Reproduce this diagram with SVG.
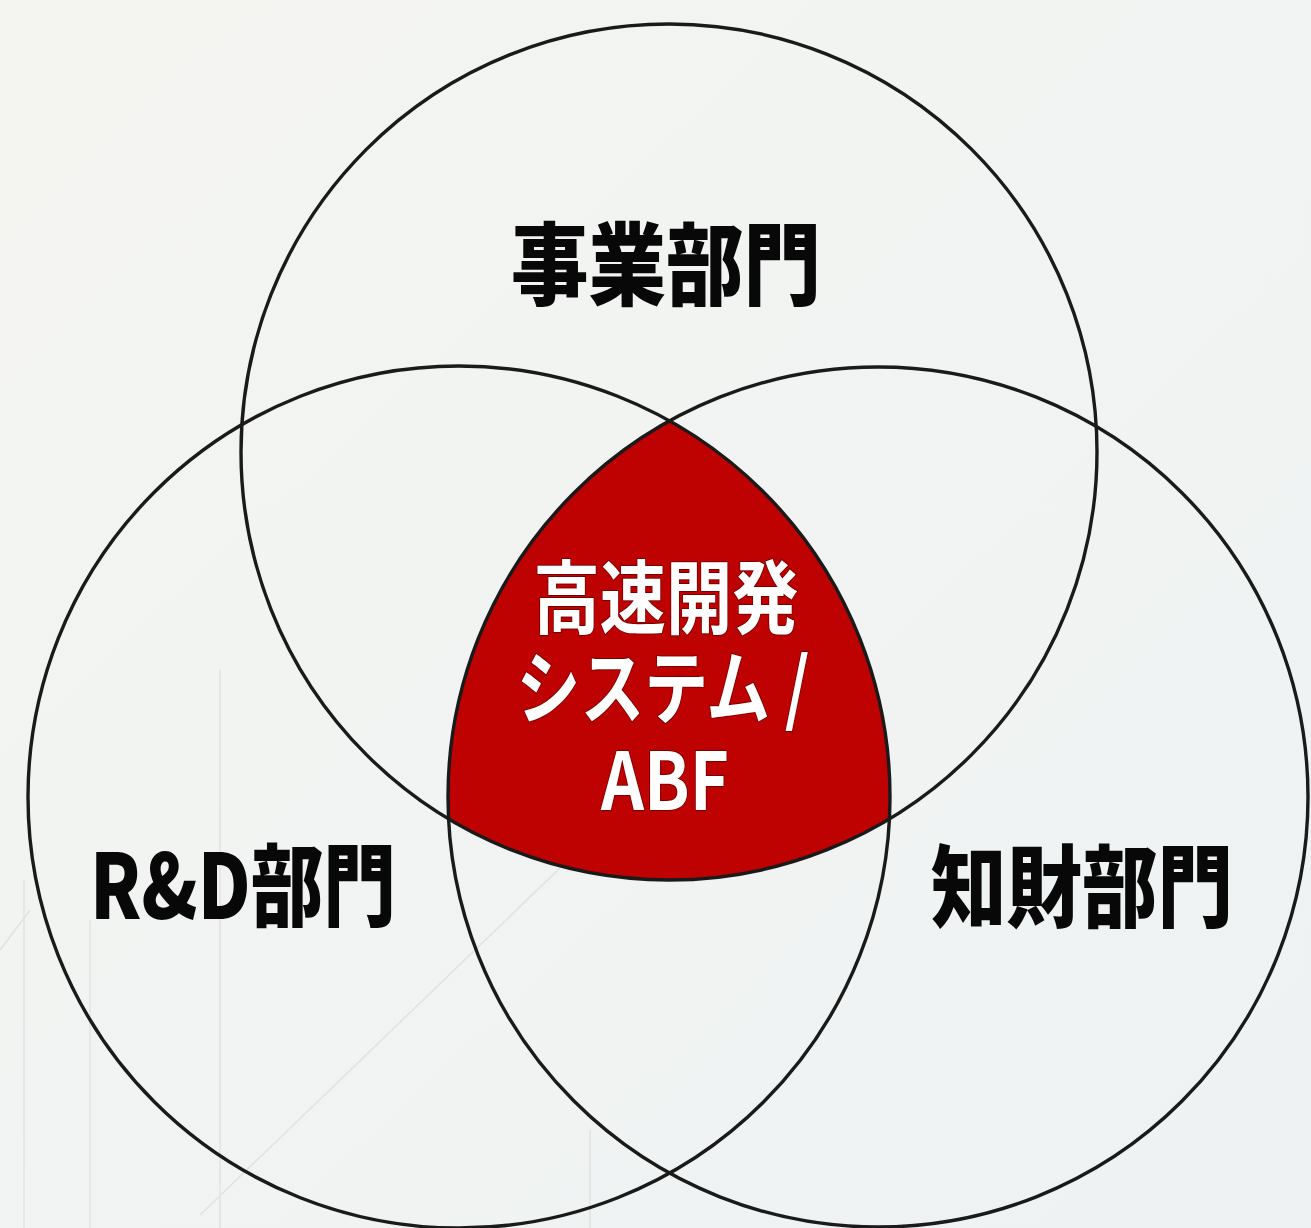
<svg xmlns="http://www.w3.org/2000/svg" width="1311" height="1228" viewBox="0 0 1311 1228">
  <defs>
    <linearGradient id="bg" x1="0" y1="0" x2="1" y2="1">
      <stop offset="0" stop-color="#F4F5F1"/>
      <stop offset="1" stop-color="#EEF2F3"/>
    </linearGradient>
    <clipPath id="clipL"><circle cx="459" cy="797" r="431"/></clipPath>
    <clipPath id="clipR"><circle cx="878" cy="797" r="430"/></clipPath>
  </defs>
  <style>
    .ring { fill: none; stroke: #1a1a1a; stroke-width: 3.4; }
    .faint { stroke: #E0E2E0; stroke-width: 1.5; fill: none; }
    .label { font-family: "Noto Sans CJK JP", "Noto Sans", sans-serif; font-weight: 900; fill: #080808; text-anchor: middle; }
    .core { font-family: "Noto Sans CJK JP", "Noto Sans", sans-serif; font-weight: 700; fill: #FFFFFF; text-anchor: middle; stroke: #7A0000; stroke-width: 2; paint-order: stroke; }
  </style>
  <rect x="0" y="0" width="1311" height="1228" fill="url(#bg)"/>
  <g id="background-lines">
    <line class="faint" x1="24" y1="880" x2="24" y2="1228"/>
    <line class="faint" x1="90" y1="920" x2="90" y2="1228"/>
    <line class="faint" x1="220" y1="670" x2="220" y2="1228"/>
    <line class="faint" x1="0" y1="950" x2="30" y2="910"/>
    <line class="faint" x1="200" y1="1215" x2="560" y2="868"/>
    <line class="faint" x1="590" y1="1130" x2="590" y2="1228"/>
  </g>
  <g id="core-region">
    <g clip-path="url(#clipR)">
      <circle cx="669" cy="452" r="428" fill="#BE0202" clip-path="url(#clipL)"/>
    </g>
  </g>
  <g id="connectors"></g>
  <g id="node-business">
    <circle class="ring" cx="669" cy="452" r="428"/>
    <text class="label" x="666" y="298" font-size="90" textLength="310" lengthAdjust="spacingAndGlyphs">事業部門</text>
  </g>
  <g id="node-rd">
    <circle class="ring" cx="459" cy="797" r="431"/>
    <text class="label" x="243" y="919" font-size="90" textLength="306" lengthAdjust="spacingAndGlyphs">R&amp;D部門</text>
  </g>
  <g id="node-ip">
    <circle class="ring" cx="878" cy="797" r="430"/>
    <text class="label" x="1082" y="920" font-size="90" textLength="302" lengthAdjust="spacingAndGlyphs">知財部門</text>
  </g>
  <g id="node-core">
    <text class="core" x="666" y="627" font-size="80" textLength="265" lengthAdjust="spacingAndGlyphs">高速開発</text>
    <text class="core" x="663" y="717" font-size="80" textLength="293" lengthAdjust="spacingAndGlyphs">システム /</text>
    <text class="core" x="665" y="810" font-size="80" textLength="128" lengthAdjust="spacingAndGlyphs">ABF</text>
  </g>
</svg>
